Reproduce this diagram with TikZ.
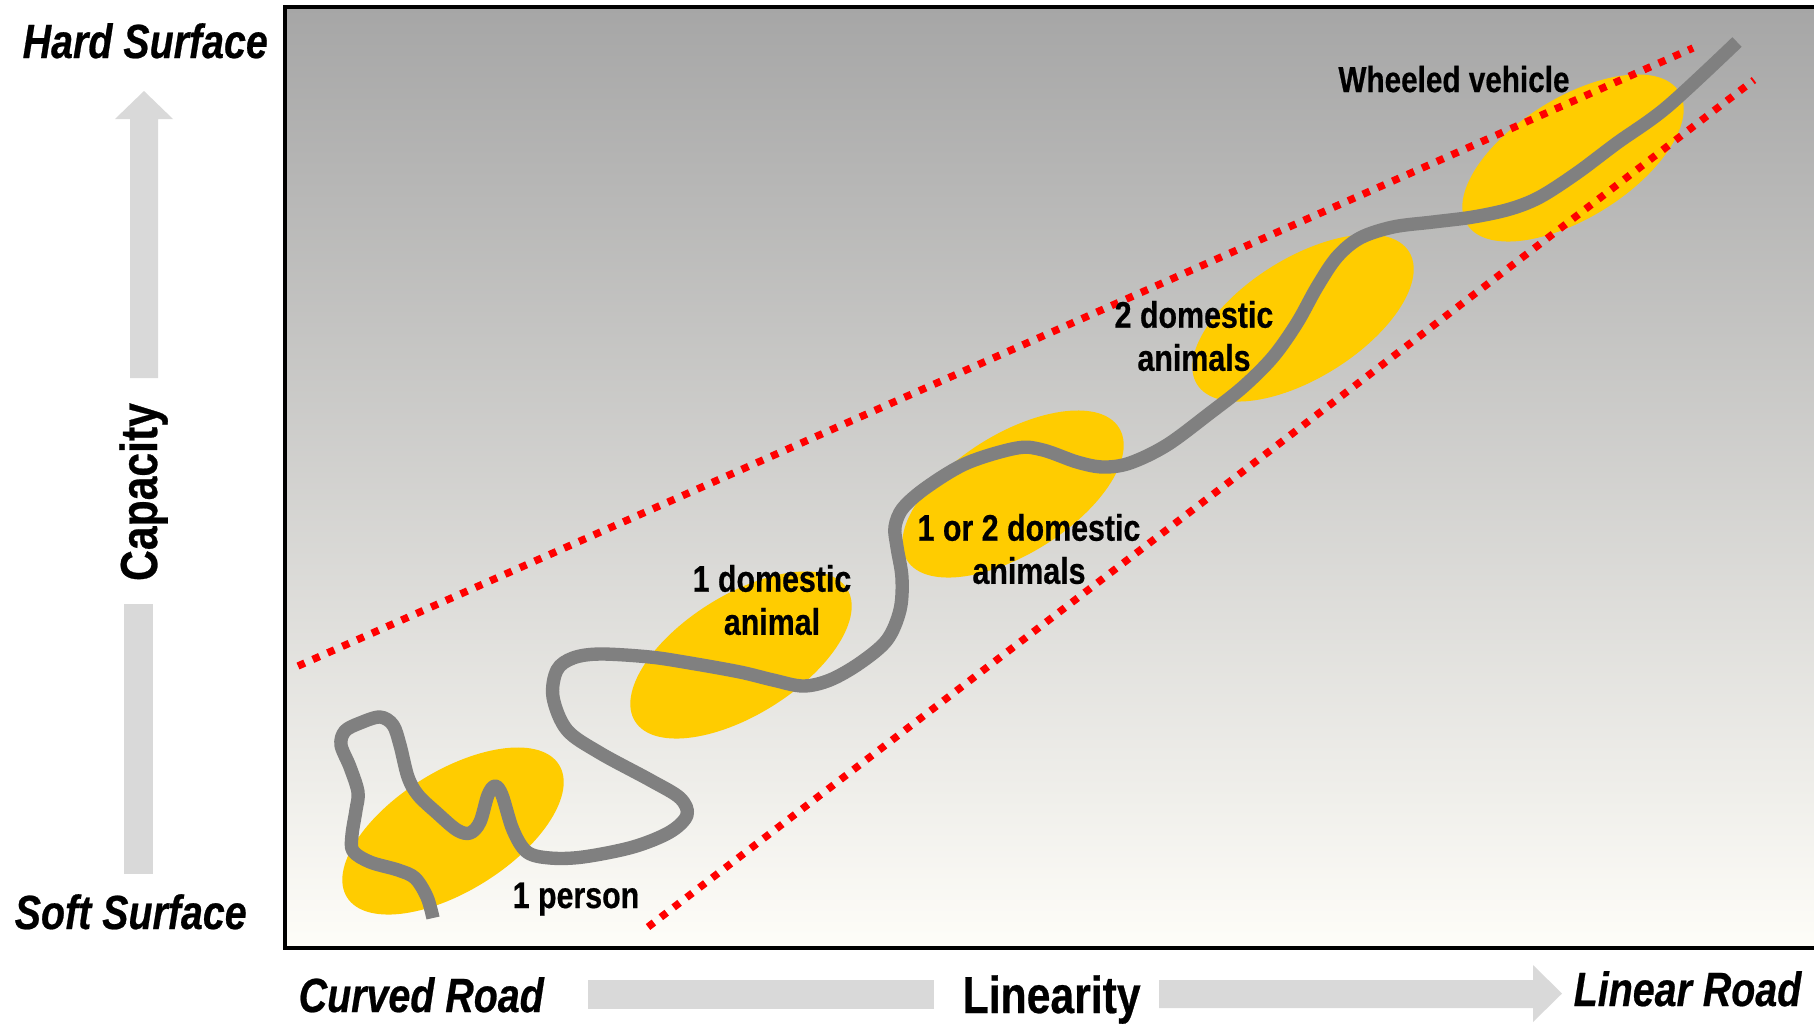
\documentclass[tikz,border=0pt]{standalone}
\usepackage{fontspec}
\setmainfont{Liberation Sans}[FakeStretch=0.82, BoldFeatures={FakeBold=0.5}, BoldItalicFeatures={FakeBold=0.5}]
\definecolor{roadgray}{HTML}{808080}
\definecolor{blob}{HTML}{FFCC00}
\definecolor{arrowgray}{HTML}{D9D9D9}
\definecolor{bgtop}{HTML}{A6A6A6}
\definecolor{bgmid}{HTML}{D6D5D1}
\definecolor{bgbot}{HTML}{FEFDF8}
\tikzset{
  blobstyle/.style={fill=blob},
  limitline/.style={red, line width=2.1pt, dash pattern=on 2.1pt off 2.5pt},
  roadstyle/.style={roadgray, line width=3.8pt, line join=round},
  axisarrow/.style={fill=arrowgray},
  axislabel/.style={font=\bfseries\itshape\fontsize{13.66}{16}\selectfont, inner sep=0pt, anchor=base west},
  axistitle/.style={font=\bfseries\fontsize{14.8}{17}\selectfont, inner sep=0pt},
  modelabel/.style={font=\bfseries\fontsize{10.53}{12.25}\selectfont, inner sep=0pt, align=center},
}
\begin{document}
\begin{tikzpicture}[x=0.01cm,y=-0.01cm]
\clip (0,0) rectangle (1814,1023);
\fill[white] (0,0) rectangle (1814,1023);
% background panel
\shade[top color=bgtop, middle color=bgmid, bottom color=bgbot] (285,7) rectangle (1830,948);
% ellipses
\coordinate (e1) at (453,831);
\coordinate (e2) at (741,655);
\coordinate (e3) at (1013,494);
\coordinate (e4) at (1303,318);
\coordinate (e5) at (1573,158);
\foreach \e in {e1,e2,e3,e4,e5}
  \fill[blobstyle, rotate around={32:(\e)}] (\e) ellipse [x radius=125, y radius=60];
% limit lines
\coordinate (u1) at (298,666);
\coordinate (u2) at (1693,48);
\coordinate (l1) at (648,927);
\coordinate (l2) at (1754,80);
\draw[limitline] (u1) -- (u2);
\draw[limitline] (l1) -- (l2);
% road
\draw[roadstyle] plot[smooth, tension=0.55] coordinates {
(433,918) (427,897) (415,878) (398,870) (370,862) (353,851) (352,835) (356,810) (358,792) (350,767) (341,745) (345,731) (360,723) (380,717) (393,725) (400,745) (408,777) (418,795) (437,813) (457,830) (470,833) (480,822) (488,795) (495,786) (502,795) (513,830) (527,852) (550,858) (583,857) (633,847) (670,832) (687,815) (680,798) (650,780) (600,753) (567,730) (553,697) (557,670) (573,658) (600,654) (650,657) (690,663) (740,672) (773,680) (803,686) (830,680) (860,663) (887,640) (900,610) (902,578) (897,547) (895,527) (903,508) (927,487) (967,463) (1017,448) (1043,450) (1077,462) (1103,467) (1130,463) (1167,445) (1210,413) (1243,387) (1273,357) (1297,323) (1317,287) (1337,257) (1360,238) (1393,227) (1433,222) (1473,217) (1510,209) (1540,197) (1577,173) (1617,143) (1667,107) (1737,42)};
% frame
\draw[line width=1pt] (285,7) rectangle (1830,948);
% axis arrows
\fill[axisarrow] (144,91) -- (173,119) -- (158,119) -- (158,378) -- (130,378) -- (130,119) -- (115,119) -- cycle;
\fill[axisarrow] (124,604) rectangle (153,874);
\fill[axisarrow] (588,980) rectangle (934,1009);
\fill[axisarrow] (1159,980) -- (1533,980) -- (1533,965) -- (1562,993.5) -- (1533,1022) -- (1533,1008) -- (1159,1008) -- cycle;
% axis texts
\node[axislabel] (hard) at (22,58) {Hard Surface};
\node[axislabel] (soft) at (14,929) {Soft Surface};
\node[axislabel] (curved) at (298,1012) {Curved Road};
\node[axislabel] (linear) at (1573,1006) {Linear Road};
\node[axistitle, anchor=base west] (linearity) at (962,1013) {Linearity};
\node[axistitle, anchor=base, rotate=90] (capacity) at (157,492) {Capacity};
% labels
\node[modelabel, anchor=base, font=\bfseries\fontsize{10.3}{12.25}\selectfont] (wheeled) at (1454,92) {Wheeled vehicle};
\node[modelabel] (twoanim) at (1194,336) {2 domestic\\animals};
\node[modelabel] (onetwo) at (1029,549) {1 or 2 domestic\\animals};
\node[modelabel] (oneanim) at (772,600) {1 domestic\\animal};
\node[modelabel, anchor=base] (person) at (576,908) {1 person};
\end{tikzpicture}
\end{document}
